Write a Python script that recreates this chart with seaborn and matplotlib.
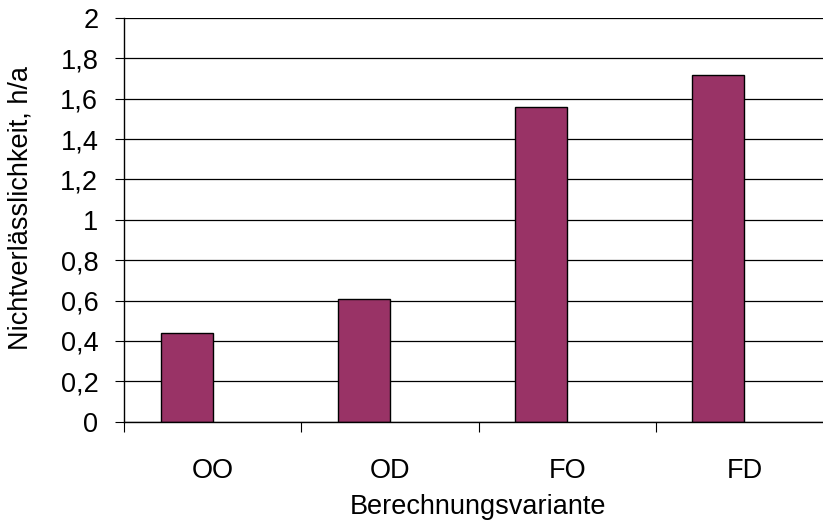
import matplotlib
matplotlib.use("Agg")
import matplotlib.pyplot as plt
import seaborn as sns
import pandas as pd

# Berechnungsvarianten und Nichtverlässlichkeit in h/a
categories = ["OO", "OD", "FO", "FD"]
values = [0.44, 0.61, 1.56, 1.72]
yticks = [0, 0.2, 0.4, 0.6, 0.8, 1.0, 1.2, 1.4, 1.6, 1.8, 2.0]
ytick_labels = ["0", "0,2", "0,4", "0,6", "0,8", "1", "1,2", "1,4", "1,6", "1,8", "2"]

sns.set_theme(style="white")
plt.rcParams["font.family"] = ["Liberation Sans", "DejaVu Sans"]

# second (empty) series keeps the bars on the left half of each group
df = pd.DataFrame({
    "Variante": categories * 2,
    "Wert": values + [0.0] * len(values),
    "Reihe": ["Reihe 1"] * len(categories) + ["Reihe 2"] * len(categories),
})

FS = 19.5

fig = plt.figure(figsize=(8.23, 5.22), dpi=100)
W, H = 823, 522
left, right, top, bottom = 124, 833, 18, 421.7
ax = fig.add_axes([left / W, (H - bottom) / H, (right - left) / W, (bottom - top) / H])

sns.barplot(data=df, x="Variante", y="Wert", hue="Reihe", order=categories,
            hue_order=["Reihe 1", "Reihe 2"], palette=["#993366", "#993366"],
            saturation=1, width=0.586, edgecolor="black", linewidth=1.0,
            legend=False, ax=ax)
for bar in ax.containers[1]:
    bar.set_visible(False)

ax.set_xlim(-0.5, 3.5)
ax.set_ylim(0, 2)
ax.set_yticks(yticks)
ax.set_yticklabels(ytick_labels)
ax.yaxis.grid(True, color="black", linewidth=0.9)
ax.set_axisbelow(True)

# category boundaries carry the x ticks
ax.set_xticks([-0.5, 0.5, 1.5, 2.5], minor=True)
ax.tick_params(axis="x", which="minor", bottom=True, length=7.5, width=0.8, color="black")
ax.tick_params(axis="x", which="major", bottom=False, pad=20, labelsize=FS, colors="black")
ax.tick_params(axis="y", left=True, length=6.5, width=0.8, color="black", pad=12,
               labelsize=FS, labelcolor="black")

for side in ["top", "right"]:
    ax.spines[side].set_visible(False)
for side in ["left", "bottom"]:
    ax.spines[side].set_color("black")
    ax.spines[side].set_linewidth(1.0)

ax.set_xlabel("Berechnungsvariante", fontsize=FS, color="black", labelpad=7)
ax.set_ylabel("Nichtverlässlichkeit, h/a", fontsize=FS, color="black")
ax.yaxis.set_label_coords(-0.128, 0.53)

fig.savefig("out.png", dpi=100)
